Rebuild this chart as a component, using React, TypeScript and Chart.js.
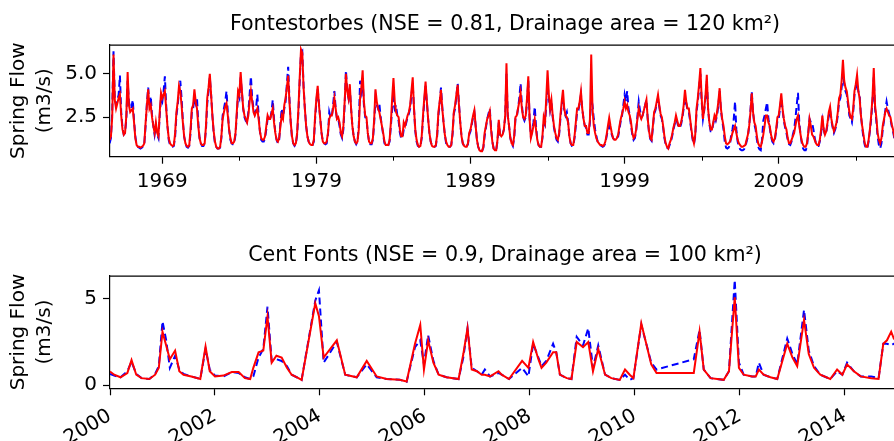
import React, { useEffect, useRef } from "react";
import { Chart, registerables } from "chart.js";
Chart.register(...registerables);

const FONT = "'DejaVu Sans', 'Liberation Sans', sans-serif";

// ---------- Fontestorbes: monthly flow, first row starts in August 1965 ----------
const fontFirstYear = 1965;
const fontFirstMonth = 7;
const fontSim: number[][] = [
  [1.2, 1.4, 2.5, 6.1, 3.5],
  [3.0, 3.3, 3.6, 3.8, 2.6, 1.8, 1.5, 1.6, 2.6, 5.1, 3.2, 2.8],
  [2.9, 3.0, 2.2, 1.3, 0.9, 0.8, 0.8, 0.75, 0.8, 0.85, 1.0, 2.2],
  [3.2, 4.1, 3.0, 3.2, 2.5, 2.0, 1.6, 2.2, 1.6, 1.4, 2.8, 3.9],
  [3.6, 3.8, 4.0, 3.0, 2.0, 1.3, 1.0, 0.9, 0.85, 0.9, 1.6, 2.8],
  [3.4, 4.3, 4.0, 3.2, 2.2, 1.4, 1.0, 0.85, 0.8, 0.9, 1.8, 3.0],
  [3.2, 4.1, 3.4, 3.0, 2.0, 1.3, 1.0, 0.9, 0.9, 1.0, 2.0, 3.6],
  [4.2, 5.0, 3.8, 2.6, 1.7, 1.1, 0.8, 0.7, 0.7, 0.8, 1.4, 2.4],
  [2.8, 3.1, 3.3, 2.6, 1.8, 1.3, 1.0, 1.0, 1.1, 1.6, 2.8, 4.0],
  [3.8, 5.1, 4.0, 3.0, 2.6, 2.4, 2.2, 2.6, 3.4, 4.0, 3.4, 2.8],
  [2.6, 2.8, 3.0, 2.4, 1.7, 1.3, 1.2, 1.2, 1.4, 2.0, 2.6, 2.4],
  [2.4, 2.7, 3.0, 2.2, 1.6, 1.2, 1.1, 1.3, 2.0, 2.6, 2.4, 3.2],
  [3.6, 4.2, 4.9, 3.4, 2.2, 1.4, 1.0, 0.9, 1.0, 1.6, 3.0, 4.8],
  [6.4, 6.2, 4.2, 3.0, 2.0, 1.4, 1.1, 0.95, 0.9, 0.9, 1.2, 2.6],
  [3.6, 4.3, 3.2, 2.4, 1.6, 1.1, 1.0, 1.0, 1.1, 1.6, 2.4, 2.6],
  [2.6, 3.0, 3.6, 3.0, 2.4, 2.5, 2.2, 1.6, 1.4, 2.0, 3.4, 5.0],
  [4.0, 3.6, 4.4, 3.0, 2.0, 1.4, 1.1, 1.0, 1.1, 1.8, 3.6, 4.2],
  [5.2, 3.4, 2.6, 2.5, 1.6, 1.1, 1.0, 1.0, 1.3, 2.4, 4.1, 3.4],
  [3.0, 2.8, 2.4, 2.0, 1.6, 1.1, 0.9, 0.9, 0.9, 1.2, 2.2, 3.6],
  [4.75, 3.4, 2.8, 2.6, 2.5, 1.8, 1.4, 1.4, 2.2, 2.0, 2.3, 2.6],
  [2.8, 3.2, 4.0, 4.8, 3.0, 1.8, 1.2, 0.9, 0.8, 0.85, 1.4, 2.6],
  [3.6, 4.55, 3.4, 2.4, 1.6, 1.1, 0.85, 0.8, 0.8, 0.9, 1.5, 2.8],
  [3.4, 4.07, 3.0, 2.2, 1.5, 1.1, 0.9, 0.8, 0.8, 0.9, 1.6, 2.8],
  [3.2, 3.8, 4.36, 3.2, 2.2, 1.4, 1.0, 0.85, 0.8, 0.8, 1.0, 1.6],
  [1.8, 2.2, 2.6, 2.9, 2.0, 1.2, 0.8, 0.6, 0.55, 0.55, 0.8, 1.6],
  [2.0, 2.4, 2.6, 2.85, 1.8, 1.1, 0.7, 0.6, 0.6, 1.2, 2.35, 1.5],
  [1.4, 1.5, 1.8, 2.6, 5.6, 2.6, 2.0, 1.3, 1.0, 0.9, 1.4, 2.5],
  [2.6, 3.0, 3.4, 3.9, 3.0, 2.5, 2.4, 2.6, 3.6, 4.85, 2.4, 1.3],
  [1.6, 2.0, 2.4, 1.8, 1.2, 0.9, 0.8, 0.8, 1.4, 2.5, 2.2, 3.6],
  [5.2, 3.8, 3.0, 3.5, 2.6, 2.0, 1.6, 1.3, 1.2, 1.6, 2.6, 3.4],
  [4.07, 3.0, 2.6, 2.5, 2.2, 1.4, 1.0, 0.9, 0.9, 1.4, 2.2, 3.0],
  [3.0, 3.4, 3.98, 3.0, 2.4, 2.0, 2.0, 1.6, 1.6, 2.4, 6.1, 3.0],
  [2.0, 1.6, 1.3, 1.1, 1.0, 0.9, 0.9, 0.85, 0.9, 1.1, 1.5, 2.0],
  [2.46, 2.0, 1.6, 1.3, 1.2, 1.2, 1.3, 1.5, 2.0, 2.4, 2.7, 3.0],
  [3.4, 3.0, 3.2, 2.8, 2.6, 2.2, 1.6, 1.3, 1.4, 1.8, 2.4, 3.0],
  [2.6, 2.4, 2.6, 2.9, 3.2, 3.5, 2.4, 1.7, 1.3, 1.2, 2.0, 2.8],
  [3.0, 3.4, 3.79, 3.2, 2.7, 2.5, 2.0, 1.4, 1.0, 0.8, 0.7, 1.0],
  [1.2, 1.5, 1.9, 2.2, 2.6, 2.3, 2.0, 2.0, 2.2, 2.6, 3.2, 4.07],
  [3.4, 3.0, 3.0, 2.4, 1.8, 1.3, 1.0, 1.5, 3.0, 3.6, 4.4, 5.33],
  [3.6, 2.4, 3.0, 3.8, 4.94, 3.0, 2.2, 1.8, 1.8, 2.2, 2.6, 2.4],
  [2.8, 3.4, 4.17, 3.0, 2.4, 2.0, 1.4, 1.0, 0.95, 1.0, 1.1, 1.3],
  [1.6, 1.8, 2.0, 1.6, 1.2, 1.0, 0.9, 0.8, 0.8, 0.85, 0.9, 1.2],
  [1.5, 2.0, 2.8, 3.88, 2.8, 2.2, 2.0, 1.4, 1.0, 0.85, 0.8, 1.1],
  [1.5, 2.0, 2.6, 2.6, 2.2, 2.0, 1.5, 1.2, 1.1, 1.3, 1.8, 2.5],
  [2.6, 3.2, 3.88, 3.0, 2.4, 2.0, 1.8, 1.3, 1.0, 1.0, 1.2, 1.4],
  [1.6, 2.0, 2.4, 2.6, 2.0, 1.5, 1.1, 0.9, 0.8, 0.8, 1.0, 1.6],
  [2.4, 2.0, 1.5, 1.4, 1.2, 1.0, 0.9, 0.9, 1.2, 1.8, 2.6, 1.8],
  [1.5, 1.7, 2.2, 2.8, 3.1, 2.4, 2.0, 1.7, 1.9, 2.2, 2.8, 3.6],
  [3.8, 4.6, 5.8, 4.6, 4.2, 4.0, 3.4, 2.8, 2.5, 2.4, 3.0, 4.0],
  [4.4, 4.94, 4.0, 3.6, 2.6, 2.0, 1.5, 1.0, 0.8, 0.8, 1.2, 1.8],
  [2.6, 3.6, 5.33, 3.2, 2.5, 1.6, 1.2, 1.0, 1.3, 2.0, 2.4, 2.8],
  [3.0, 2.8, 2.6, 2.5, 2.1, 1.8, 1.4, 1.1, 0.9, 0.9, 1.0, 1.2],
];
const fontObs: number[][] = [
  [1.0, 1.3, 2.8, 6.3, 3.6],
  [3.2, 3.5, 3.8, 4.9, 2.8, 1.9, 1.5, 1.6, 2.4, 4.6, 3.4, 3.0],
  [3.1, 3.5, 2.3, 1.4, 0.9, 0.8, 0.75, 0.7, 0.75, 0.8, 1.0, 2.0],
  [3.3, 4.2, 3.1, 3.7, 2.6, 2.0, 1.5, 2.0, 1.5, 1.3, 2.6, 3.6],
  [3.4, 4.0, 4.85, 3.2, 2.0, 1.2, 0.9, 0.8, 0.8, 0.85, 1.4, 2.6],
  [3.2, 4.0, 4.6, 3.6, 2.3, 1.4, 1.0, 0.8, 0.75, 0.85, 1.6, 2.8],
  [3.0, 3.6, 3.3, 3.6, 2.2, 1.3, 1.0, 0.85, 0.85, 1.0, 1.8, 3.3],
  [4.0, 4.8, 3.8, 2.6, 1.6, 1.0, 0.8, 0.7, 0.7, 0.75, 1.3, 2.6],
  [3.0, 3.4, 4.0, 2.8, 1.8, 1.2, 1.0, 0.95, 1.0, 1.5, 2.6, 3.8],
  [3.6, 4.8, 3.9, 3.0, 2.5, 2.3, 2.2, 2.8, 3.8, 4.85, 3.6, 3.0],
  [2.7, 3.0, 3.8, 2.6, 1.7, 1.2, 1.1, 1.1, 1.3, 1.8, 2.4, 2.3],
  [2.4, 2.8, 3.5, 2.4, 1.6, 1.2, 1.0, 1.2, 2.2, 3.0, 2.5, 3.0],
  [3.4, 4.4, 5.4, 3.6, 2.2, 1.3, 1.0, 0.85, 0.95, 1.5, 2.8, 4.6],
  [6.2, 6.3, 4.3, 3.0, 2.0, 1.4, 1.1, 0.95, 0.9, 0.9, 1.1, 2.4],
  [3.4, 4.1, 3.3, 2.4, 1.6, 1.1, 1.0, 0.95, 1.0, 1.5, 2.8, 2.5],
  [2.5, 3.2, 4.0, 3.0, 2.4, 2.4, 2.0, 1.5, 1.3, 1.8, 3.2, 5.2],
  [4.0, 3.6, 4.2, 3.0, 2.0, 1.4, 1.1, 0.95, 1.1, 2.0, 4.6, 4.0],
  [4.6, 3.2, 2.5, 2.4, 1.6, 1.1, 0.95, 0.95, 1.2, 2.2, 3.6, 3.2],
  [3.0, 3.3, 2.5, 2.0, 1.5, 1.0, 0.85, 0.85, 0.9, 1.1, 2.0, 3.0],
  [3.6, 3.0, 3.2, 2.6, 2.3, 1.6, 1.3, 1.3, 1.8, 1.9, 2.2, 2.5],
  [2.7, 3.0, 3.8, 4.4, 3.0, 1.7, 1.1, 0.85, 0.8, 0.8, 1.3, 2.4],
  [3.4, 4.3, 3.4, 2.4, 1.6, 1.1, 0.85, 0.8, 0.8, 0.85, 1.4, 2.6],
  [3.3, 4.2, 3.1, 2.2, 1.5, 1.0, 0.85, 0.8, 0.8, 0.9, 1.5, 2.7],
  [3.0, 3.7, 4.45, 3.3, 2.2, 1.4, 1.0, 0.85, 0.8, 0.8, 0.95, 1.5],
  [1.7, 2.1, 2.5, 2.8, 2.0, 1.2, 0.8, 0.6, 0.55, 0.55, 0.75, 1.4],
  [1.9, 2.4, 2.7, 3.0, 1.9, 1.1, 0.7, 0.6, 0.6, 1.1, 2.2, 1.5],
  [1.4, 1.5, 1.8, 2.5, 5.0, 2.6, 2.0, 1.3, 1.0, 0.85, 1.3, 2.4],
  [2.5, 3.0, 3.6, 4.46, 3.2, 2.5, 2.3, 2.5, 3.4, 4.6, 2.5, 1.4],
  [1.7, 2.2, 3.1, 2.0, 1.2, 0.9, 0.8, 0.8, 1.3, 2.3, 2.1, 3.2],
  [4.4, 3.6, 2.9, 3.3, 2.5, 1.9, 1.5, 1.2, 1.1, 1.5, 2.4, 3.2],
  [3.6, 2.9, 2.6, 2.8, 2.2, 1.4, 1.0, 0.85, 0.85, 1.3, 2.0, 2.8],
  [2.9, 3.3, 3.8, 3.0, 2.4, 2.0, 1.9, 1.5, 1.5, 2.2, 3.6, 3.2],
  [2.4, 1.8, 1.4, 1.1, 1.0, 0.9, 0.85, 0.8, 0.85, 1.0, 1.4, 1.8],
  [2.0, 1.8, 1.5, 1.3, 1.2, 1.2, 1.3, 1.4, 1.8, 2.3, 2.6, 3.2],
  [3.8, 3.4, 4.0, 3.0, 2.6, 2.0, 1.5, 1.2, 1.3, 1.7, 2.6, 3.4],
  [2.9, 2.5, 2.6, 2.9, 3.2, 3.5, 2.4, 1.6, 1.25, 1.15, 1.9, 2.7],
  [2.9, 3.3, 3.6, 3.1, 2.6, 2.4, 1.9, 1.3, 0.9, 0.75, 0.7, 0.9],
  [1.1, 1.4, 1.8, 2.1, 2.4, 2.2, 1.9, 1.9, 2.1, 2.5, 3.0, 3.6],
  [3.3, 2.9, 2.8, 2.3, 1.7, 1.2, 0.95, 1.4, 2.8, 3.4, 4.2, 5.0],
  [3.4, 2.4, 2.9, 3.6, 4.6, 3.0, 2.1, 1.7, 1.7, 2.1, 2.5, 2.3],
  [2.6, 3.2, 4.0, 2.9, 2.3, 1.8, 1.1, 0.75, 0.7, 0.75, 0.9, 1.5],
  [1.8, 2.4, 3.4, 1.8, 1.1, 0.8, 0.65, 0.6, 0.6, 0.65, 0.8, 1.1],
  [1.4, 2.0, 2.9, 4.0, 2.8, 2.1, 1.8, 1.2, 0.8, 0.65, 0.6, 1.2],
  [2.3, 2.6, 3.0, 3.36, 2.4, 1.9, 1.4, 1.1, 1.0, 1.2, 1.7, 2.3],
  [2.4, 3.0, 3.6, 2.9, 2.3, 1.9, 1.6, 1.2, 0.95, 0.9, 1.1, 1.5],
  [1.8, 2.4, 3.2, 3.9, 2.2, 1.5, 1.0, 0.7, 0.6, 0.6, 0.8, 1.6],
  [2.4, 2.2, 2.2, 1.8, 1.3, 1.0, 0.85, 0.85, 1.1, 1.6, 2.3, 1.8],
  [1.5, 1.6, 2.1, 2.6, 2.9, 2.3, 1.9, 1.6, 1.8, 2.1, 2.6, 3.4],
  [3.6, 4.2, 5.0, 4.4, 4.0, 3.8, 3.2, 2.6, 2.4, 2.2, 2.8, 3.8],
  [4.2, 4.5, 4.0, 3.8, 2.6, 1.9, 1.3, 0.9, 0.7, 0.7, 1.1, 1.7],
  [2.4, 3.4, 4.8, 3.0, 2.3, 1.4, 0.9, 0.7, 1.0, 1.8, 2.3, 2.9],
  [3.4, 3.0, 2.7, 2.4, 2.0, 1.7, 1.3, 1.0, 0.8, 0.8, 0.9, 1.1],
];
const fontTickYears = [1969, 1979, 1989, 1999, 2009];
const fontMinorYears = [1974, 1984, 1994, 2004, 2014];
const fontYTicks = [2.5, 5.0];

// ---------- Cent Fonts: sampled dates (decimal years) ----------
const centDates = [
  2000.0, 2000.08, 2000.2, 2000.33, 2000.41, 2000.5, 2000.6, 2000.75, 2000.86, 2000.93,
  2001.0, 2001.07, 2001.14, 2001.24, 2001.32, 2001.4, 2001.55, 2001.72, 2001.82, 2001.9,
  2002.0, 2002.16, 2002.32, 2002.45, 2002.57, 2002.67, 2002.73, 2002.83, 2002.92, 2003.0,
  2003.08, 2003.17, 2003.27, 2003.37, 2003.46, 2003.59, 2003.65, 2003.91, 2003.98, 2004.07,
  2004.32, 2004.48, 2004.7, 2004.89, 2005.08, 2005.27, 2005.52, 2005.65, 2005.81, 2005.91,
  2005.98, 2006.06, 2006.16, 2006.26, 2006.41, 2006.64, 2006.73, 2006.81, 2006.89, 2006.99,
  2007.08, 2007.14, 2007.24, 2007.4, 2007.46, 2007.6, 2007.85, 2007.97, 2008.06, 2008.16,
  2008.22, 2008.31, 2008.44, 2008.5, 2008.57, 2008.7, 2008.79, 2008.89, 2009.01, 2009.11,
  2009.2, 2009.3, 2009.43, 2009.55, 2009.71, 2009.81, 2009.9, 2009.97, 2010.12, 2010.31,
  2010.41, 2011.12, 2011.23, 2011.31, 2011.44, 2011.69, 2011.79, 2011.9, 2011.98, 2012.07,
  2012.23, 2012.3, 2012.36, 2012.45, 2012.58, 2012.71, 2012.9, 2013.0, 2013.09, 2013.22,
  2013.31, 2013.41, 2013.53, 2013.72, 2013.85, 2013.95, 2014.04, 2014.17, 2014.3, 2014.5,
  2014.64, 2014.73, 2014.8, 2014.88, 2014.93, 2015.05,
];
const centSim = [
  0.78, 0.6, 0.45, 0.7, 1.45, 0.6, 0.4, 0.35, 0.6, 1.0,
  3.1, 2.3, 1.5, 2.0, 0.8, 0.6, 0.5, 0.35, 2.23, 0.8,
  0.5, 0.55, 0.75, 0.75, 0.4, 0.35, 1.0, 1.9, 2.0, 3.97,
  1.3, 1.7, 1.6, 1.0, 0.6, 0.4, 0.3, 4.75, 4.0, 1.6,
  2.6, 0.6, 0.45, 1.4, 0.5, 0.35, 0.3, 0.2, 2.4, 3.49,
  0.9, 2.6, 1.3, 0.6, 0.45, 0.35, 1.8, 3.3, 0.9, 0.8,
  0.6, 0.6, 0.5, 0.8, 0.6, 0.35, 1.4, 1.0, 2.5, 1.5,
  1.0, 1.3, 1.9, 1.9, 0.6, 0.4, 0.35, 2.5, 2.2, 2.5,
  0.8, 2.1, 0.6, 0.4, 0.3, 0.9, 0.6, 0.4, 3.59, 1.2,
  0.7, 0.7, 3.1, 0.9, 0.4, 0.3, 0.8, 5.1, 1.0, 0.6,
  0.5, 0.5, 0.9, 0.6, 0.45, 0.35, 2.4, 1.6, 1.1, 3.78,
  1.8, 1.0, 0.6, 0.35, 0.9, 0.6, 1.2, 0.8, 0.5, 0.4,
  0.35, 2.4, 2.6, 3.1, 2.7, 2.3,
];
const centObs = [
  0.65, 0.55, 0.45, 0.8, 1.35, 0.65, 0.4, 0.35, 0.65, 1.1,
  3.7, 2.6, 1.0, 1.7, 0.9, 0.65, 0.5, 0.35, 2.1, 0.9,
  0.55, 0.5, 0.75, 0.7, 0.45, 0.35, 0.5, 1.6, 2.1, 4.55,
  1.4, 1.5, 1.4, 1.1, 0.6, 0.4, 0.3, 4.9, 5.5, 1.3,
  2.5, 0.6, 0.45, 1.2, 0.45, 0.35, 0.3, 0.19, 2.2, 2.6,
  1.2, 2.9, 1.4, 0.6, 0.45, 0.35, 1.6, 3.3, 1.0, 0.8,
  0.6, 0.9, 0.5, 0.7, 0.6, 0.35, 1.0, 0.5, 2.4, 1.6,
  1.1, 1.4, 2.4, 1.9, 0.6, 0.4, 0.35, 2.8, 2.3, 3.3,
  1.0, 2.3, 0.6, 0.4, 0.3, 0.6, 0.3, 0.4, 3.5, 1.3,
  0.9, 1.5, 3.2, 0.9, 0.4, 0.3, 0.8, 6.1, 1.3, 0.6,
  0.5, 0.5, 1.3, 0.6, 0.45, 0.35, 2.7, 1.8, 1.2, 4.36,
  2.0, 1.1, 0.6, 0.35, 0.8, 0.6, 1.3, 0.8, 0.5, 0.5,
  0.4, 2.4, 2.4, 2.3, 2.4, 2.3,
];
const centTickYears = [2000, 2002, 2004, 2006, 2008, 2010, 2012, 2014];
const centYTicks = [0, 5];

function monthlyPoints(firstYear: number, firstMonth: number, rows: number[][]) {
  const pts: { x: number; y: number }[] = [];
  rows.forEach((row, i) => {
    const start = i === 0 ? firstMonth : 0;
    row.forEach((v, j) => pts.push({ x: firstYear + i + (start + j) / 12, y: v }));
  });
  return pts;
}
function pairPoints(xs: number[], ys: number[]) {
  return xs.map((x, i) => ({ x, y: ys[i] }));
}

const framePlugin = {
  id: "frame",
  afterDraw(chart: any, _args: any, opts: any) {
    const { ctx, chartArea } = chart;
    const { left, right, top, bottom } = chartArea;
    ctx.save();
    ctx.strokeStyle = "#000";
    ctx.lineWidth = 1.2;
    ctx.beginPath();
    ctx.moveTo(left, top + 0.5);
    ctx.lineTo(right, top + 0.5);
    ctx.stroke();
    const minor: number[] = (opts && opts.minor) || [];
    ctx.lineWidth = 1;
    ctx.beginPath();
    minor.forEach((v) => {
      const px = Math.round(chart.scales.x.getPixelForValue(v)) + 0.5;
      ctx.moveTo(px, bottom);
      ctx.lineTo(px, bottom + 4);
    });
    ctx.stroke();
    ctx.restore();
  },
};

function makeConfig(p: any): any {
  return {
    type: "line",
    data: {
      datasets: [
        { data: p.sim, borderColor: "#ff0000", borderWidth: 2, pointRadius: 0, tension: 0, fill: false },
        { data: p.obs, borderColor: "#0000ff", borderWidth: 2, borderDash: [7, 4], pointRadius: 0, tension: 0, fill: false },
      ],
    },
    plugins: [framePlugin],
    options: {
      animation: false,
      responsive: false,
      maintainAspectRatio: false,
      layout: { padding: 0 },
      plugins: {
        legend: { display: false },
        tooltip: { enabled: false },
        title: {
          display: true,
          text: p.title,
          fullSize: false,
          color: "#000",
          font: { family: FONT, size: 20.6, weight: "normal", lineHeight: 1.2 },
          padding: { top: p.titleTop, bottom: p.titleBottom },
        },
        frame: { minor: p.minor },
      },
      scales: {
        x: {
          type: "linear",
          min: p.xMin,
          max: p.xMax,
          afterBuildTicks: (s: any) => {
            s.ticks = p.xTicks.map((v: number) => ({ value: v }));
          },
          afterFit: (s: any) => {
            s.height = p.xAxisHeight;
            s.paddingLeft = 0;
            s.paddingRight = 0;
          },
          ticks: {
            autoSkip: false,
            minRotation: p.rotation,
            maxRotation: p.rotation,
            padding: p.xPad,
            color: "#000",
            font: { family: FONT, size: 20 },
            callback: (v: any) => String(v),
          },
          grid: { display: true, drawOnChartArea: false, drawTicks: true, tickLength: 7, color: "#000", tickWidth: 1.2 },
          border: { display: true, color: "#000", width: 1.2 },
        },
        y: {
          type: "linear",
          position: "left",
          min: p.yMin,
          max: p.yMax,
          afterBuildTicks: (s: any) => {
            s.ticks = p.yTicks.map((v: number) => ({ value: v }));
          },
          afterFit: (s: any) => {
            s.width = 110;
            s.paddingTop = 0;
            s.paddingBottom = 0;
          },
          ticks: {
            padding: 6,
            color: "#000",
            font: { family: FONT, size: 20 },
            callback: p.yFmt,
          },
          grid: { display: true, drawOnChartArea: false, drawTicks: true, tickLength: 7, color: "#000", tickWidth: 1.2 },
          border: { display: true, color: "#000", width: 1.2 },
          title: {
            display: true,
            text: ["Spring Flow", "(m3/s)"],
            color: "#000",
            font: { family: FONT, size: 20, lineHeight: 1.3 },
            padding: { top: 6, bottom: 0 },
          },
        },
      },
    },
  };
}

export default function App() {
  const topRef = useRef<HTMLCanvasElement>(null);
  const botRef = useRef<HTMLCanvasElement>(null);

  useEffect(() => {
    Chart.defaults.font.family = FONT;
    Chart.defaults.color = "#000";
    const top = new Chart(
      topRef.current as HTMLCanvasElement,
      makeConfig({
        title: "Fontestorbes (NSE = 0.81, Drainage area = 120 km²)",
        titleTop: 12,
        titleBottom: 8,
        sim: monthlyPoints(fontFirstYear, fontFirstMonth, fontSim),
        obs: monthlyPoints(fontFirstYear, fontFirstMonth, fontObs),
        xMin: 1965.606,
        xMax: 2016.87,
        xTicks: fontTickYears,
        minor: fontMinorYears,
        rotation: 0,
        xPad: 6,
        xAxisHeight: 63.3,
        yMin: 0.23,
        yMax: 6.67,
        yTicks: fontYTicks,
        yFmt: (v: any) => Number(v).toFixed(1),
      })
    );
    const bot = new Chart(
      botRef.current as HTMLCanvasElement,
      makeConfig({
        title: "Cent Fonts (NSE = 0.9, Drainage area = 100 km²)",
        titleTop: 23,
        titleBottom: 8,
        sim: pairPoints(centDates, centSim),
        obs: pairPoints(centDates, centObs),
        xMin: 2000,
        xMax: 2015.048,
        xTicks: centTickYears,
        minor: [],
        rotation: 30,
        xPad: 9,
        xAxisHeight: 52.7,
        yMin: -0.19,
        yMax: 6.35,
        yTicks: centYTicks,
        yFmt: (v: any) => String(Math.round(Number(v))),
      })
    );
    return () => {
      top.destroy();
      bot.destroy();
    };
  }, []);

  return (
    <div style={{ position: "fixed", left: 0, top: 0, width: 894, height: 441, overflow: "hidden", background: "#fff" }}>
      <canvas ref={topRef} width={900} height={220} style={{ position: "absolute", left: 0, top: 0, width: 900, height: 220 }} />
      <canvas ref={botRef} width={900} height={221} style={{ position: "absolute", left: 0, top: 220, width: 900, height: 221 }} />
    </div>
  );
}
